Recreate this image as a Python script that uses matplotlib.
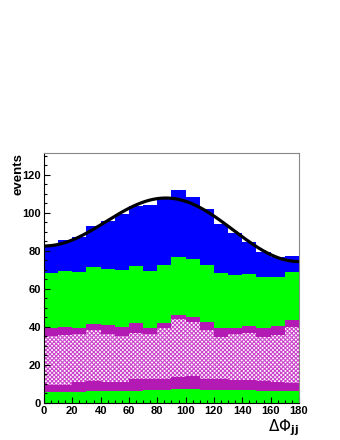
import numpy as np
import matplotlib
matplotlib.use('Agg')
import matplotlib.pyplot as plt
from matplotlib.ticker import MultipleLocator

plt.rcParams['font.family'] = ['Liberation Sans', 'DejaVu Sans']
plt.rcParams['mathtext.fontset'] = 'dejavusans'
plt.rcParams['hatch.linewidth'] = 0.8

# dphi_jj bins, 10 degrees wide
bin_edges = list(range(0, 190, 10))

# stacked contributions, bottom to top
bkg_green_low = [5.8, 5.9, 6.0, 6.2, 6.2, 6.3, 6.5, 6.6, 6.9, 7.2, 7.2, 7.0, 6.8, 6.7, 6.6, 6.5, 6.4, 6.3]
bkg_purple_low = [3.7, 3.7, 4.8, 5.3, 5.1, 4.7, 6.0, 6.0, 5.9, 6.7, 7.0, 5.8, 5.7, 5.4, 5.4, 5.1, 4.8, 4.4]
bkg_hatched = [25.7, 26.2, 25.5, 26.9, 25.0, 24.3, 24.2, 23.5, 26.5, 30.1, 28.6, 25.4, 22.4, 24.2, 24.9, 22.9, 24.7, 29.5]
bkg_purple_high = [4.0, 4.2, 2.9, 3.3, 4.6, 4.7, 5.2, 3.3, 2.6, 2.3, 2.6, 4.6, 4.6, 3.2, 3.6, 4.8, 4.5, 3.5]
bkg_green_high = [29.0, 29.6, 29.9, 29.9, 29.8, 30.0, 30.2, 30.2, 30.6, 30.5, 30.4, 29.8, 28.7, 28.0, 27.4, 26.8, 26.1, 25.2]
sig_blue = [14.4, 16.0, 18.1, 21.7, 25.3, 29.3, 31.6, 34.4, 34.7, 35.2, 32.8, 29.4, 25.9, 21.7, 16.8, 13.1, 10.1, 8.5]

# fit: p0 + p1*cos(x) + p2*cos(2x)
fit_pars = [93.1, 4.1, -14.6]

layers = [
    (bkg_green_low, dict(color='#00ff00')),
    (bkg_purple_low, dict(color='#b31ab3')),
    (bkg_hatched, dict(facecolor='white', edgecolor='#cc44cc', hatch='xxxxxxxx', linewidth=0)),
    (bkg_purple_high, dict(color='#b31ab3')),
    (bkg_green_high, dict(color='#00ff00')),
    (sig_blue, dict(color='#0000ff')),
]

fig = plt.figure(figsize=(3.4, 4.4), dpi=100)
ax = fig.add_axes([0.1294, 0.0841, 0.75, 0.5689])

base = np.zeros(len(bin_edges) - 1)
for vals, style in layers:
    top = base + np.array(vals)
    ax.stairs(top, bin_edges, baseline=base, fill=True, **style)
    base = top

xf = np.linspace(0, 180, 400)
rad = np.radians(xf)
yf = fit_pars[0] + fit_pars[1] * np.cos(rad) + fit_pars[2] * np.cos(2 * rad)
ax.plot(xf, yf, color='black', lw=2.3)

ax.set_xlim(0, 180)
ax.set_ylim(0, 131.7)
ax.xaxis.set_major_locator(MultipleLocator(20))
ax.xaxis.set_minor_locator(MultipleLocator(5))
ax.yaxis.set_major_locator(MultipleLocator(20))
ax.yaxis.set_minor_locator(MultipleLocator(5))
ax.tick_params(which='both', direction='in', top=False, right=False, width=0.8, colors='black')
ax.tick_params(which='major', length=4.0, labelsize=8, pad=2)
ax.tick_params(which='minor', length=2.2)
for lab in ax.get_xticklabels() + ax.get_yticklabels():
    lab.set_fontweight('bold')
for s in ['top', 'right']:
    ax.spines[s].set_color('#888888')
for s in ['left', 'bottom']:
    ax.spines[s].set_color('black')
    ax.spines[s].set_linewidth(0.8)

ax.set_ylabel('events', fontsize=9.5, fontweight='bold', loc='top')
ax.yaxis.set_label_coords(-0.078, 1.0)
ax.set_xlabel(r'$\Delta\Phi_{\mathbf{jj}}$', fontsize=11, loc='right', labelpad=1)

fig.savefig('out.png', dpi=100)
